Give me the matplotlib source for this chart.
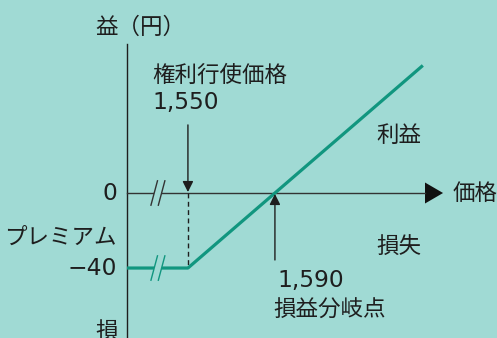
import matplotlib
matplotlib.use("Agg")
import matplotlib.pyplot as plt
from matplotlib.patches import Polygon

plt.rcParams['font.family'] = ['Noto Sans CJK JP', 'DejaVu Sans']

# データ（価格 → 損益）
price = [1522, 1550, 1658]
profit = [-40, -40, 68]
strike = 1550
breakeven = 1590
premium = -40

BG = "#a0dad4"
TEAL = "#11967f"
INK = "#1e1e1e"
FS = 16.2
FS_NUM = 16.8
NUM_FONT = ['DejaVu Sans', 'Noto Sans CJK JP']

fig = plt.figure(figsize=(4.97, 3.38), dpi=100, facecolor=BG)
ax = fig.add_axes([0, 0, 1, 1])
ax.set_facecolor(BG)
ax.set_xlim(1463.6, 1692.1)
ax.set_ylim(-77.3, 102.9)
ax.axis("off")

x_axis = price[0]

# 縦軸
ax.plot([x_axis, x_axis], [-80, 79.5], color=INK, lw=1.0)
# 横軸（矢印）
ax.plot([x_axis, 1659], [0, 0], color="#333333", lw=1.0)
ax.add_patch(Polygon([[1659, 5.6], [1667.3, 0], [1659, -5.6]], closed=True,
                     color="#111111", lw=0))

# 損益線
ax.plot(price, profit, color=TEAL, lw=2.3, solid_capstyle="butt", zorder=3)

# 点線
ax.plot([strike, strike], [0, premium], color=INK, lw=1.0, ls=(0, (3.5, 2.5)))

# 省略記号（二重の波線）
def brk(xc, yc, color):
    dx, dy, g = 1.5, 6.5, 1.7
    gap = Polygon([[xc - g - dx, yc - dy], [xc - g + dx, yc + dy],
                   [xc + g + dx, yc + dy], [xc + g - dx, yc - dy]],
                  closed=True, color=BG, lw=0, zorder=4)
    ax.add_patch(gap)
    for s in (-g, g):
        ax.plot([xc + s - dx, xc + s + dx], [yc - dy, yc + dy], color=color,
                lw=1.0, zorder=5)

brk(1536.2, 0, "#333333")
brk(1536.2, premium, TEAL)

# 矢印（権利行使価格）
ax.annotate("", xy=(strike, 0.5), xytext=(strike, 36.3),
            arrowprops=dict(arrowstyle="-|>", color=INK, lw=1.0,
                            mutation_scale=16, shrinkA=0, shrinkB=0))
# 矢印（損益分岐点）
ax.annotate("", xy=(breakeven, -0.5), xytext=(breakeven, -35.7),
            arrowprops=dict(arrowstyle="-|>", color=INK, lw=1.0,
                            mutation_scale=16, shrinkA=0, shrinkB=0))

def txt(x, y, s, ha="left", num=False):
    if num:
        ax.text(x, y, s, ha=ha, va="center", fontsize=FS_NUM, color=INK,
                family=NUM_FONT)
    else:
        ax.text(x, y, s, ha=ha, va="center", fontsize=FS, color=INK)

txt(1507.5, 88.5, "益（円）")
txt(1533.4, 62.9, "権利行使価格")
txt(1533.6, 48.0, "1,550", num=True)
txt(1517.4, 0, "0", ha="right", num=True)
txt(1517.4, -23.5, "プレミアム", ha="right")
txt(1517.4, premium, "−40", ha="right", num=True)
txt(1517.8, -73.6, "損", ha="right")
txt(1636.6, 30.9, "利益")
txt(1636.6, -28.3, "損失")
txt(1671.6, 0, "価格")
txt(1591.2, -46.4, "1,590", num=True)
txt(1589.5, -62.4, "損益分岐点")

fig.savefig("out.png", dpi=100, facecolor=BG)
